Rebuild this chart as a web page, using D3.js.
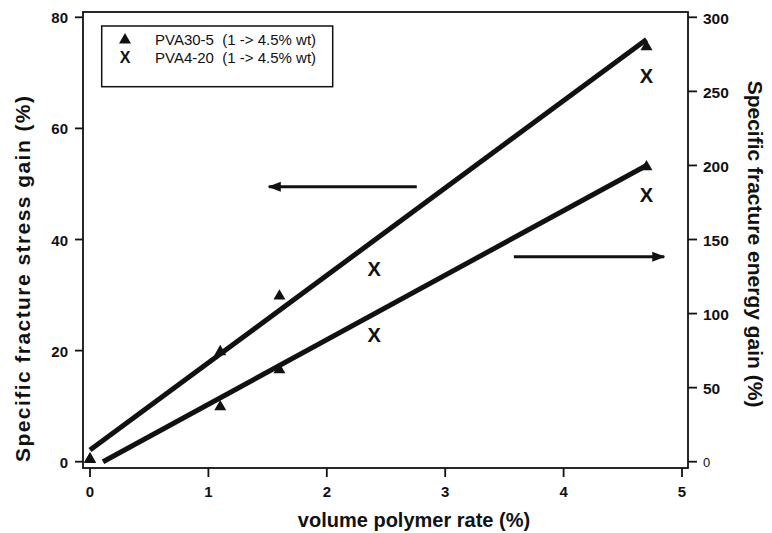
<!DOCTYPE html>
<html lang="en">
<head>
    <meta charset="UTF-8">
    <title>Specific fracture gain vs volume polymer rate</title>
    <style>
        body { margin: 0; padding: 0; background: #fff; }
        svg { display: block; font-family: "Liberation Sans", Arial, Helvetica, sans-serif; }
        .tick-label { font-size: 15px; font-weight: bold; fill: #111; }
        .axis-title { font-weight: bold; fill: #111; }
        .leg-label { white-space: pre; }
    </style>
</head>
<body>
    <div id="chart"></div>

    <script src="https://d3js.org/d3.v7.min.js"></script>
    <script>
        // Data
        const xTicks = [0, 1, 2, 3, 4, 5];
        const leftTicks = [0, 20, 40, 60, 80];
        const rightTicks = [0, 50, 100, 150, 200, 250, 300];

        // PVA30-5 (triangles)
        const pva30Rate = [0, 1.1, 1.6, 4.7];
        const pva30Stress = [0.5, 19.8, 29.8, 74.7];   // left axis
        const pva30Energy = [1.5, 37, 62, 199];        // right axis

        // PVA4-20 (crosses)
        const pva4Rate = [2.4, 4.7];
        const pva4Stress = [34.8, 69.4];
        const pva4Energy = [85.5, 180];

        // fitted lines (end points)
        const stressFitRate = [0, 4.7];
        const stressFitValue = [2.1, 76];
        const energyFitRate = [0.11, 4.7];
        const energyFitValue = [0, 200];

        // arrows telling which axis a line belongs to
        const stressArrowRate = [2.76, 1.51];
        const stressArrowValue = 49.5;
        const energyArrowRate = [3.58, 4.85];
        const energyArrowValue = 138.4;

        const legendLabels = ["PVA30-5  (1 -> 4.5% wt)", "PVA4-20  (1 -> 4.5% wt)"];

        const width = 772, height = 533;
        const frame = { left: 83, right: 688, top: 12, bottom: 468 };

        const svg = d3.select("#chart").append("svg")
            .attr("width", width).attr("height", height);

        const x = d3.scaleLinear().domain([0, 5]).range([90, 682]);
        const yL = d3.scaleLinear().domain([0, 80]).range([461.7, 17.3]);
        const yR = d3.scaleLinear().domain([0, 300]).range([461.7, 17.3]);

        // frame
        svg.append("rect")
            .attr("x", frame.left).attr("y", frame.top)
            .attr("width", frame.right - frame.left)
            .attr("height", frame.bottom - frame.top)
            .attr("fill", "none").attr("stroke", "#111").attr("stroke-width", 1.8);

        // bottom ticks
        const bx = svg.append("g");
        bx.selectAll("line").data(xTicks).enter().append("line")
            .attr("x1", d => x(d)).attr("x2", d => x(d))
            .attr("y1", frame.bottom).attr("y2", frame.bottom + 9)
            .attr("stroke", "#111").attr("stroke-width", 1.8);
        bx.selectAll("text").data(xTicks).enter().append("text")
            .attr("class", "tick-label")
            .attr("x", d => x(d)).attr("y", 497)
            .attr("text-anchor", "middle")
            .text(d => d);

        // left ticks
        const lx = svg.append("g");
        lx.selectAll("line").data(leftTicks).enter().append("line")
            .attr("x1", frame.left - 8).attr("x2", frame.left)
            .attr("y1", d => yL(d)).attr("y2", d => yL(d))
            .attr("stroke", "#111").attr("stroke-width", 1.8);
        lx.selectAll("text").data(leftTicks).enter().append("text")
            .attr("class", "tick-label")
            .attr("x", 68).attr("y", d => yL(d)).attr("dy", "0.4em")
            .attr("text-anchor", "end")
            .text(d => d);

        // right ticks
        const rx = svg.append("g");
        rx.selectAll("line").data(rightTicks).enter().append("line")
            .attr("x1", frame.right).attr("x2", frame.right + 9)
            .attr("y1", d => yR(d)).attr("y2", d => yR(d))
            .attr("stroke", "#111").attr("stroke-width", 1.8);
        rx.selectAll("text").data(rightTicks).enter().append("text")
            .attr("class", "tick-label")
            .attr("x", 703).attr("y", d => yR(d)).attr("dy", "0.4em")
            .style("font-weight", d => d === 0 ? "normal" : "bold")
            .style("font-size", d => d === 0 ? "13px" : "15.5px")
            .text(d => d);

        // axis titles
        svg.append("text").attr("class", "axis-title")
            .attr("x", 414).attr("y", 527)
            .attr("text-anchor", "middle").style("font-size", "20px")
            .text("volume polymer rate (%)");

        svg.append("text").attr("class", "axis-title")
            .attr("transform", "translate(30,279) rotate(-90)")
            .attr("text-anchor", "middle").style("font-size", "21px")
            .attr("textLength", 366).attr("lengthAdjust", "spacing")
            .text("Specific fracture stress gain (%)");

        svg.append("text").attr("class", "axis-title")
            .attr("transform", "translate(748,244) rotate(90)")
            .attr("text-anchor", "middle").style("font-size", "21px")
            .text("Specific fracture energy gain (%)");

        // fitted lines
        const line = d3.line().x(d => x(d[0])).y(d => d[1]);
        svg.append("path")
            .datum(stressFitRate.map((r, i) => [r, yL(stressFitValue[i])]))
            .attr("d", line).attr("fill", "none")
            .attr("stroke", "#111").attr("stroke-width", 5);
        svg.append("path")
            .datum(energyFitRate.map((r, i) => [r, yR(energyFitValue[i])]))
            .attr("d", line).attr("fill", "none")
            .attr("stroke", "#111").attr("stroke-width", 5);

        // arrow heads
        svg.append("defs").append("marker")
            .attr("id", "head")
            .attr("markerUnits", "userSpaceOnUse")
            .attr("markerWidth", 14).attr("markerHeight", 12)
            .attr("viewBox", "0 -6 14 12")
            .attr("refX", 12).attr("refY", 0)
            .attr("orient", "auto")
            .append("path").attr("d", "M0,-5L13,0L0,5Z").attr("fill", "#111");

        svg.append("line")
            .attr("x1", x(stressArrowRate[0])).attr("x2", x(stressArrowRate[1]))
            .attr("y1", yL(stressArrowValue)).attr("y2", yL(stressArrowValue))
            .attr("stroke", "#111").attr("stroke-width", 3)
            .attr("marker-end", "url(#head)");
        svg.append("line")
            .attr("x1", x(energyArrowRate[0])).attr("x2", x(energyArrowRate[1]))
            .attr("y1", yR(energyArrowValue)).attr("y2", yR(energyArrowValue))
            .attr("stroke", "#111").attr("stroke-width", 3)
            .attr("marker-end", "url(#head)");

        // triangle markers
        const tri = d3.symbol().type(d3.symbolTriangle).size(62);
        const triPts = pva30Rate.map((r, i) => [x(r), yL(pva30Stress[i])])
            .concat(pva30Rate.map((r, i) => [x(r), yR(pva30Energy[i])]));
        svg.selectAll(".tri").data(triPts).enter().append("path")
            .attr("class", "tri")
            .attr("d", tri)
            .attr("transform", d => `translate(${d[0]},${d[1]})`)
            .attr("fill", "#111");

        // cross markers (drawn as bold X like the original)
        const crossPts = pva4Rate.map((r, i) => [x(r), yL(pva4Stress[i])])
            .concat(pva4Rate.map((r, i) => [x(r), yR(pva4Energy[i])]));
        svg.selectAll(".cross").data(crossPts).enter().append("text")
            .attr("class", "cross")
            .attr("x", d => d[0]).attr("y", d => d[1]).attr("dy", "0.36em")
            .attr("text-anchor", "middle")
            .style("font-size", "20px").style("font-weight", "bold").attr("fill", "#111")
            .text("X");

        // legend
        const legend = svg.append("g");
        legend.append("rect")
            .attr("x", 101.7).attr("y", 26).attr("width", 231).attr("height", 60.7)
            .attr("fill", "#fff").attr("stroke", "#111").attr("stroke-width", 1.5);
        legend.append("path")
            .attr("d", tri)
            .attr("transform", "translate(125,40)")
            .attr("fill", "#111");
        legend.append("text")
            .attr("x", 125).attr("y", 57.5).attr("dy", "0.36em")
            .attr("text-anchor", "middle")
            .style("font-size", "16px").style("font-weight", "bold").attr("fill", "#111")
            .text("X");
        legend.selectAll(".leg-label").data(legendLabels).enter().append("text")
            .attr("class", "leg-label")
            .attr("x", 155).attr("y", (d, i) => 45 + i * 18.3)
            .style("font-size", "15px").attr("fill", "#111")
            .text(d => d);
    </script>
</body>
</html>
